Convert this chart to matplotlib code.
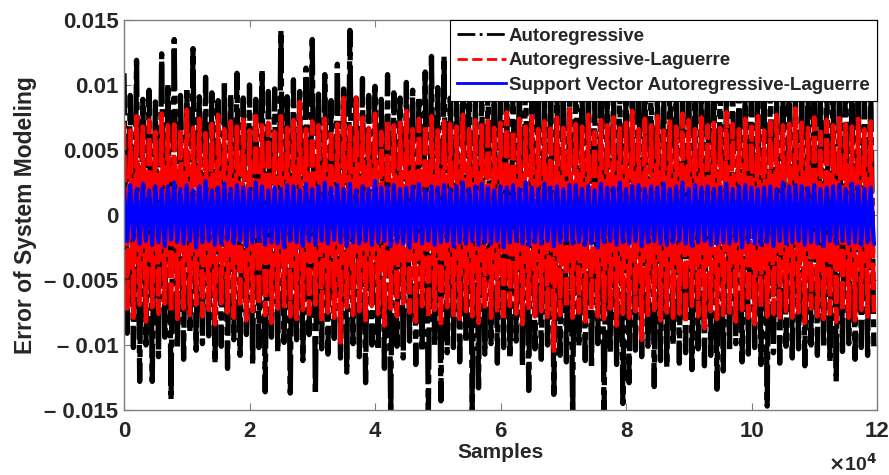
"""
Modelling error of three models over 1.2e5 samples.
Values are read off the reference picture (successive peaks, in units of 1e-3).
"""
import numpy as np
import matplotlib
matplotlib.use("Agg")
import matplotlib.pyplot as plt

# ── Data (units of 1e-3, one value every 500 samples) ─────────────────────────
SAMPLE_STEP = 500

ar_err = [
    10.9, -9.1, 9.2, -10.2, 11.9, -12.8, 8.9, -10.0, 9.6, -12.8, 8.7, -10.9,
    12.4, -9.4, 10.1, -14.2, 13.5, -10.3, 9.2, -11.1, 9.8, -9.0, 12.8, -10.4,
    9.1, -9.9, 10.6, -9.3, 9.4, -11.4, 8.8, -10.1, 10.3, -11.8, 9.3, -9.6,
    10.9, -10.8, 9.0, -9.2, 10.0, -11.5, 8.9, -10.2, 11.2, -13.6, 9.5, -9.4,
    9.7, -10.5, 14.2, -9.8, 9.1, -13.7, 10.4, -9.6, 9.5, -11.2, 11.3, -9.2,
    13.5, -13.8, 9.3, -10.3, 10.8, -10.7, 8.8, -9.5, 11.6, -11.0, 9.7, -12.1,
    14.2, -9.9, 9.0, -10.9, 10.5, -12.9, 9.2, -10.0, 9.9, -10.4, 8.9, -11.8,
    10.8, -15.5, 9.4, -10.1, 9.0, -11.0, 10.2, -9.7, 9.6, -11.5, 9.1, -10.5,
    11.0, -15.5, 12.2, -10.0, 9.8, -14.3, 12.2, -10.6, 9.0, -10.2, 10.4, -11.3,
    9.3, -9.8, 10.6, -15.1, 8.9, -13.3, 9.9, -10.7, 10.2, -9.9, 9.4, -11.4,
    10.8, -10.2, 9.1, -11.0, 9.9, -9.7, 10.5, -11.6, 12.5, -13.5, 9.2, -10.3,
    9.8, -11.1, 8.9, -10.0, 10.4, -13.8, 9.5, -10.8, 10.0, -11.3, 8.8, -15.5,
    12.3, -10.1, 9.6, -11.2, 10.2, -11.8, 9.1, -9.9, 10.6, -15.5, 9.0, -10.6,
    9.8, -11.5, 10.3, -14.5, 9.3, -12.9, 8.9, -10.4, 12.7, -10.9, 9.6, -10.1,
    10.5, -13.2, 9.1, -11.2, 10.0, -11.7, 10.7, -10.0, 9.0, -11.4, 9.7, -10.6,
    10.4, -11.9, 9.4, -10.3, 9.9, -11.6, 12.0, -10.8, 9.2, -13.4, 10.1, -12.0,
    9.5, -10.5, 10.5, -9.9, 8.9, -11.3, 9.8, -10.7, 11.5, -10.2, 9.3, -11.5,
    10.0, -14.7, 10.3, -10.6, 9.1, -11.4, 9.7, -10.1, 10.4, -11.0, 9.0, -10.3,
    9.6, -11.6, 10.2, -10.0, 12.5, -10.8, 9.4, -10.2, 10.3, -11.3, 9.3, -12.8,
    9.9, -10.5, 12.0, -9.9, 9.5, -11.1, 10.4, -10.2, 9.0, -10.8, 9.7, -10.1,
]

arl_err = [
    7.1, -7.4, 6.5, -7.9, 7.6, -6.9, 6.8, -8.2, 7.3, -7.1, 6.4, -7.6,
    7.8, -6.8, 6.9, -7.5, 7.2, -8.0, 6.6, -7.2, 8.1, -7.7, 6.7, -6.9,
    7.4, -7.8, 6.3, -7.3, 7.0, -8.4, 7.7, -6.8, 6.6, -7.5, 7.2, -7.9,
    6.8, -7.1, 7.5, -8.1, 6.5, -7.4, 7.9, -6.9, 6.9, -7.7, 7.1, -8.3,
    6.4, -7.2, 7.6, -7.0, 6.7, -7.8, 7.3, -8.0, 8.7, -7.3, 6.6, -7.6,
    7.2, -6.9, 6.9, -8.2, 7.4, -7.5, 6.5, -7.9, 7.0, -9.8, 9.0, -7.1,
    6.8, -7.7, 9.0, -7.4, 7.5, -8.1, 6.7, -7.0, 7.8, -7.6, 6.4, -8.5,
    7.3, -7.2, 6.9, -7.8, 7.1, -6.8, 8.0, -7.5, 6.6, -8.2, 7.4, -7.0,
    6.9, -7.9, 7.6, -7.3, 6.5, -8.6, 7.2, -7.1, 7.0, -7.7, 6.8, -8.0,
    7.7, -7.4, 6.6, -7.8, 7.3, -8.3, 6.9, -7.2, 7.5, -7.9, 6.7, -7.5,
    7.1, -8.1, 7.9, -7.0, 6.5, -7.6, 7.4, -8.4, 6.8, -7.3, 7.6, -7.8,
    6.6, -7.4, 7.2, -8.0, 6.9, -10.6, 7.5, -7.7, 6.7, -7.1, 8.1, -7.9,
    7.0, -7.5, 6.8, -8.2, 7.7, -7.3, 6.4, -7.8, 7.3, -8.0, 6.9, -7.2,
    7.5, -8.5, 6.7, -7.6, 7.1, -7.9, 8.0, -7.4, 6.6, -9.6, 7.4, -7.7,
    6.9, -7.3, 7.6, -8.1, 6.5, -7.5, 7.2, -7.9, 6.8, -7.6, 7.8, -8.3,
    7.3, -7.0, 6.6, -7.8, 7.5, -8.7, 6.9, -7.4, 7.1, -8.0, 6.7, -7.7,
    7.9, -7.5, 7.0, -8.2, 6.6, -7.3, 7.4, -7.9, 6.8, -8.4, 7.6, -7.1,
    6.5, -7.8, 7.2, -7.6, 7.7, -8.1, 6.9, -7.4, 7.0, -7.9, 8.2, -7.5,
    7.1, -8.3, 6.7, -7.2, 7.5, -7.8, 6.4, -8.0, 7.3, -7.6, 6.9, -8.2,
    7.6, -7.4, 7.0, -7.9, 6.8, -8.1, 7.4, -7.3, 6.6, -7.8, 7.2, -7.5,
]

svarl_err = [
    2.1, -2.0, 2.3, -1.9, 2.0, -2.2, 2.4, -2.0, 1.9, -2.3, 2.2, -2.1,
    2.0, -2.4, 2.2, -1.9, 2.5, -2.1, 2.0, -2.2, 2.3, -2.0, 1.9, -2.5,
    2.2, -2.1, 2.6, -2.0, 1.9, -2.3, 2.1, -2.2, 2.4, -1.9, 2.0, -2.2,
    2.3, -2.0, 2.1, -2.4, 2.0, -2.1, 2.5, -2.0, 2.2, -2.3, 1.9, -2.1,
    2.1, -2.2, 2.0, -2.5, 2.3, -2.0, 2.2, -2.1, 1.9, -2.4, 2.4, -2.0,
    2.0, -2.3, 2.2, -2.0, 2.5, -2.2, 2.1, -1.9, 2.3, -2.1, 2.0, -2.4,
    2.4, -2.1, 1.9, -2.2, 2.2, -2.0, 2.0, -2.3, 2.6, -2.1, 2.1, -2.0,
    2.2, -2.4, 2.3, -2.1, 2.0, -2.2, 2.1, -2.5, 2.2, -2.0, 2.4, -2.2,
    1.9, -2.0, 2.2, -2.3, 2.1, -2.1, 2.3, -2.0, 2.0, -2.4, 2.2, -2.1,
    2.5, -2.2, 2.0, -2.0, 2.2, -2.3, 2.4, -2.1, 2.1, -2.2, 1.9, -2.0,
    2.2, -2.5, 2.1, -2.1, 2.3, -2.0, 2.0, -2.2, 2.5, -2.3, 2.1, -2.1,
    2.0, -2.2, 2.4, -2.0, 2.1, -2.4, 2.2, -2.1, 2.0, -2.0, 2.3, -2.2,
    2.3, -2.1, 2.0, -2.3, 2.2, -2.2, 1.9, -2.5, 2.4, -2.1, 2.1, -2.0,
    2.1, -2.3, 2.5, -2.1, 2.0, -2.2, 2.2, -2.0, 2.3, -2.4, 2.0, -2.1,
    2.2, -2.0, 2.1, -2.2, 2.4, -2.3, 2.0, -2.1, 2.2, -2.0, 2.5, -2.2,
    2.0, -2.4, 2.3, -2.1, 2.1, -2.0, 2.2, -2.3, 2.0, -2.2, 2.1, -2.1,
    2.4, -2.2, 2.0, -2.0, 2.2, -2.5, 2.3, -2.1, 2.1, -2.2, 2.0, -2.3,
    2.1, -2.1, 2.2, -2.4, 2.0, -2.0, 2.5, -2.2, 2.2, -2.1, 2.3, -2.0,
    2.2, -2.3, 2.1, -2.1, 2.3, -2.2, 2.0, -2.4, 2.1, -2.0, 2.2, -2.2,
    2.3, -2.0, 2.0, -2.2, 2.4, -2.1, 2.2, -2.3, 2.0, -2.1, 2.1, -2.2,
]

labels = ["Autoregressive", "Autoregressive-Laguerre",
          "Support Vector Autoregressive-Laguerre"]
x_ticks = [0, 2, 4, 6, 8, 10, 12]
y_ticks = [-0.015, -0.01, -0.005, 0, 0.005, 0.01, 0.015]
y_ticklabels = ["\u2013 0.015", "\u2013 0.01", "\u2013 0.005", "0",
                "0.005", "0.01", "0.015"]

# ── Styling ───────────────────────────────────────────────────────────────────
plt.rcParams["font.family"] = ["Liberation Sans", "DejaVu Sans"]
plt.rcParams["font.weight"] = "bold"
TXT = "#262626"
SPINE = "#808080"

fig = plt.figure(figsize=(8.89, 4.75), dpi=100)
ax = fig.add_axes([124 / 889, 1 - 410 / 475, 753 / 889, 390 / 475])

series = [
    (ar_err, "black", (0, (8, 1.0, 1.5, 1.0)), 3.8),
    (arl_err, "#ff0000", (0, (6, 1.0)), 3.3),
    (svarl_err, "#0000ff", "-", 3.0),
]
for (vals, col, ls, lw), lab in zip(series, labels):
    y = np.asarray(vals) * 1e-3
    x = np.arange(len(y)) * SAMPLE_STEP
    ax.plot(x, y, color=col, linestyle=ls, linewidth=lw, label=lab)

ax.set_xlim(0, 12e4)
ax.set_ylim(-0.015, 0.015)
ax.set_xticks([t * 1e4 for t in x_ticks])
ax.set_xticklabels([str(t) for t in x_ticks])
ax.set_yticks(y_ticks)
ax.set_yticklabels(y_ticklabels)

ax.tick_params(direction="in", length=5, width=0.8, color=SPINE,
               labelsize=16, labelcolor=TXT, top=True, right=True)
ax.tick_params(axis="x", pad=8)
ax.tick_params(axis="y", pad=4)
for s in ax.spines.values():
    s.set_color(SPINE)
    s.set_linewidth(1.0)

ax.set_xlabel("Samples", fontsize=15, fontweight="bold", color=TXT, labelpad=1)
ax.set_ylabel("Error of System Modeling", fontsize=16.5, fontweight="bold",
              color=TXT, labelpad=5)
fig.text(877 / 889, 1 - 464 / 475, r"$\times$10$^{4}$", ha="right", va="center",
         fontsize=14, fontweight="bold", color=TXT)

# legend, drawn with short handles to mimic the reference
leg = ax.legend(loc="upper right", fontsize=13.5, frameon=True, fancybox=False,
                borderaxespad=0, handlelength=2.6, handletextpad=0.15,
                labelspacing=0.4, borderpad=0.4)
leg.get_frame().set_edgecolor("black")
leg.get_frame().set_linewidth(0.8)
leg.get_frame().set_alpha(1)
for t in leg.get_texts():
    t.set_color(TXT)
for h, ls in zip(leg.get_lines(), ["-.", "--", "-"]):
    h.set_linewidth(2.0)
    h.set_linestyle(ls)

fig.savefig("out.png", dpi=100)
